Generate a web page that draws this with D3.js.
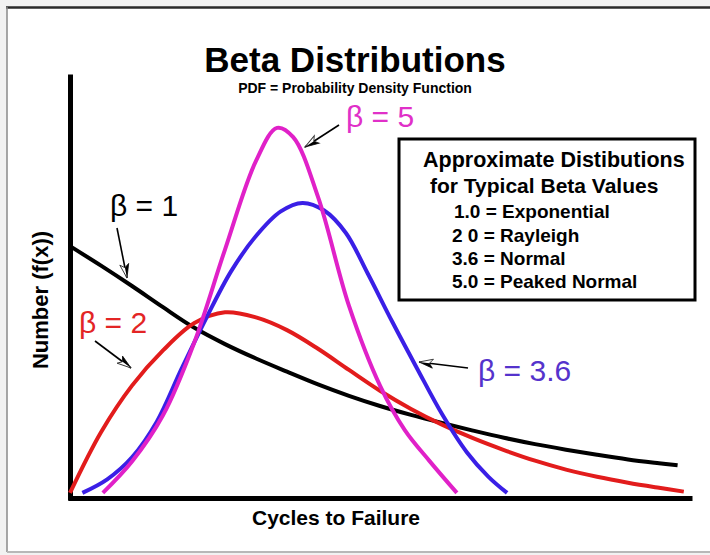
<!DOCTYPE html>
<html><head><meta charset="utf-8">
<script src="https://cdn.jsdelivr.net/npm/d3@7"></script>
<style>
html,body{margin:0;padding:0;background:#f2f2f2;}
svg{display:block;}
text{font-family:"Liberation Sans",Arial,Helvetica,sans-serif;}
</style></head>
<body>
<svg id="c" width="710" height="555"></svg>
<script>
// ---- data (x = cycles, y = number f(x)) ----
const beta1X = [0,5,10,15,20,25,30,35,40,45,50,55,60,65,70,75,80,85,90,95,98];
const beta1Y = [59.4,54.8,50.0,45.0,40.2,36.3,32.9,29.8,26.8,24.1,21.7,19.6,17.7,15.9,14.2,12.7,11.4,10.2,9.1,8.2,7.7];
const beta2X = [0,5,10,15,20,25,30,35,40,45,50,55,60,65,70,75,80,85,90,95,99];
const beta2Y = [1.2,15.5,26.5,34.8,41.2,43.8,42.6,39.6,35.2,30.2,25.3,21.0,17.3,14.1,11.3,8.8,6.7,5.0,3.6,2.4,1.5];
const beta36X = [2,6,10,14,18,22,26,30,34,37.5,41,44.5,48,52,56,60,64,67.5,70.5];
const beta36Y = [1.2,4.4,9.6,18.0,30.5,42.5,53.5,61.8,67.6,69.6,67.8,62.5,53.0,41.5,30.5,19.8,10.8,5.0,1.2];
const beta5X = [5.3,10,15,20,25,30,33.4,36,40,45,50,54,58,62.4];
const beta5Y = [1.2,8.6,19.5,36.5,58.6,79.5,87.3,85.1,71.0,45.3,26.5,16.0,8.7,1.2];
const seriesNames = ["β = 1","β = 2","β = 3.6","β = 5"];
const legendLines = ["Approximate Distibutions","for Typical Beta Values","1.0 = Exponential","2 0 = Rayleigh","3.6 = Normal","5.0 = Peaked Normal"];

const svg = d3.select("#c");
// frame
svg.append("rect").attr("x",7).attr("y",7).attr("width",710).attr("height",545).attr("fill","#fff");
svg.append("line").attr("x1",6).attr("x2",710).attr("y1",7.5).attr("y2",7.5).attr("stroke","#2a2a2a").attr("stroke-width",2.5);
svg.append("line").attr("x1",7).attr("x2",7).attr("y1",7).attr("y2",552).attr("stroke","#8a8a8a").attr("stroke-width",1.5);
svg.append("line").attr("x1",7).attr("x2",710).attr("y1",552).attr("y2",552).attr("stroke","#b8b8b8").attr("stroke-width",2);

const x = d3.scaleLinear().domain([0,100]).range([70,690]);
const y = d3.scaleLinear().domain([0,100]).range([498,74]);

// axes
const gx = svg.append("g").attr("transform","translate(0,498)")
  .call(d3.axisBottom(x.copy().range([68,692])).ticks(0).tickSizeOuter(0));
const gy = svg.append("g").attr("transform","translate(70,0)")
  .call(d3.axisLeft(y.copy().range([500,74])).ticks(0).tickSizeOuter(0));
[gx,gy].forEach(g=>g.select(".domain").attr("stroke","#000").attr("stroke-width",5));

// curves
const line = d3.line().x(d=>x(d[0])).y(d=>y(d[1])).curve(d3.curveCatmullRom.alpha(0.5));
const series = [
  {xs:beta1X, ys:beta1Y, color:"#000000"},
  {xs:beta2X, ys:beta2Y, color:"#e21c1c"},
  {xs:beta36X, ys:beta36Y, color:"#3a1fe6"},
  {xs:beta5X, ys:beta5Y, color:"#e021c8"}
];
series.forEach(s=>{
  svg.append("path").datum(s.xs.map((v,i)=>[v,s.ys[i]]))
    .attr("d",line).attr("fill","none").attr("stroke",s.color)
    .attr("stroke-width",4).attr("stroke-linecap","butt");
});

// titles
svg.append("text").attr("x",355).attr("y",72).attr("text-anchor","middle")
  .attr("font-size",35).attr("font-weight","bold").text("Beta Distributions");
svg.append("text").attr("x",355).attr("y",93).attr("text-anchor","middle")
  .attr("font-size",14).attr("font-weight","bold").text("PDF = Probability Density Function");
svg.append("text").attr("x",336).attr("y",525).attr("text-anchor","middle")
  .attr("font-size",21).attr("font-weight","bold").text("Cycles to Failure");
svg.append("text").attr("transform","translate(48,300) rotate(-90)").attr("text-anchor","middle")
  .attr("font-size",22).attr("font-weight","bold").text("Number (f(x))");

// legend box
svg.append("rect").attr("x",399).attr("y",139).attr("width",296).attr("height",161)
  .attr("fill","#fff").attr("stroke","#000").attr("stroke-width",3);
const lg = [[423,167,21.5],[430,193,21],[454,218,19],[452,242,19],[452,265,19],[452,288,19]];
legendLines.forEach((t,i)=>{
  svg.append("text").attr("x",lg[i][0]).attr("y",lg[i][1]).attr("font-size",lg[i][2])
    .attr("font-weight","bold").text(t);
});

// arrow marker
const defs = svg.append("defs");
const m = defs.append("marker").attr("id","arr").attr("markerUnits","userSpaceOnUse")
  .attr("markerWidth",20).attr("markerHeight",14).attr("refX",0).attr("refY",0)
  .attr("viewBox","-16 -7 20 14").attr("orient","auto");
m.append("path").attr("d","M0,0 L-14,-4.5 L-10.5,0 L-14,4.5 Z").attr("fill","#fff").attr("stroke","#333").attr("stroke-width",0.9);
m.append("path").attr("d","M0,0 L-14,-4.5 L-10.5,0 Z").attr("fill","#000");

const arrows = [[117,228,127,278],[95,341,131,368],[339,125,305,147],[468,368,419,362]];
arrows.forEach(a=>{
  svg.append("line").attr("x1",a[0]).attr("y1",a[1]).attr("x2",a[2]).attr("y2",a[3])
    .attr("stroke","#000").attr("stroke-width",1.6).attr("marker-end","url(#arr)");
});

// curve labels
const labs = [[110,216,"#000000"],[79,333,"#e32525"],[478,381,"#5533cc"],[346,127,"#e030c8"]];
seriesNames.forEach((t,i)=>{
  svg.append("text").attr("x",labs[i][0]).attr("y",labs[i][1]).attr("font-size",30)
    .attr("fill",labs[i][2]).text(t);
});
</script>
</body></html>
